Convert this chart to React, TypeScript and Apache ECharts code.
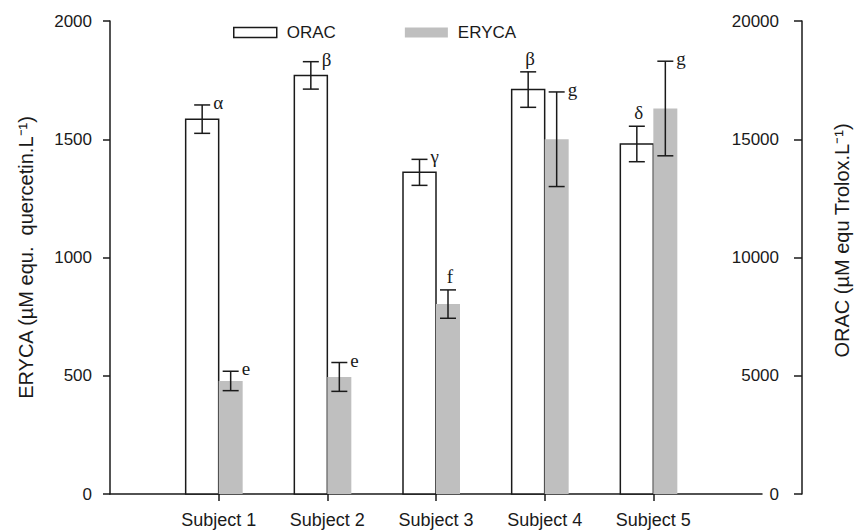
import React, { useEffect, useRef } from "react";
import * as echarts from "echarts";

const categories = ["Subject 1", "Subject 2", "Subject 3", "Subject 4", "Subject 5"];
const oracValues = [15850, 17700, 13600, 17100, 14800];
const oracErrors = [600, 580, 550, 750, 750];
const oracLetters = ["α", "β", "γ", "β", "δ"];
const oracLetterSide = ["right", "right", "right", "above", "above"];
const erycaValues = [478, 495, 803, 1500, 1630];
const erycaErrors = [41, 61, 60, 200, 200];
const erycaLetters = ["e", "e", "f", "g", "g"];
const erycaLetterSide = ["right", "right", "above", "right", "right"];
const erycaTicks = [0, 2000, 500];
const oracTicks = [0, 20000, 5000];

const SANS = '"Liberation Sans", Arial, Helvetica, sans-serif';
const SERIF = '"Liberation Serif", "Times New Roman", serif';
const INK = "#1a1a1a";

function makeRender(kind: "orac" | "eryca", letters: string[], sides: string[]) {
  return (params: any, api: any) => {
    const idx = api.value(0);
    const v = api.value(1);
    const e = api.value(2);
    const base = api.coord([idx, 0]);
    const top = api.coord([idx, v]);
    const hi = api.coord([idx, v + e]);
    const lo = api.coord([idx, v - e]);
    const x = base[0];
    const barW = kind === "orac" ? 33 : 24;
    const left = kind === "orac" ? x - barW : x;
    const cx = left + barW / 2;
    const cap = 8;
    const lineStyle = { stroke: INK, lineWidth: 1.5 };
    const children: any[] = [
      {
        type: "rect",
        shape: { x: left, y: top[1], width: barW, height: base[1] - top[1] },
        style:
          kind === "orac"
            ? { fill: "#ffffff", stroke: INK, lineWidth: 1.5 }
            : { fill: "#bfbfbf", stroke: null },
      },
      { type: "line", shape: { x1: cx, y1: hi[1], x2: cx, y2: lo[1] }, style: lineStyle },
      { type: "line", shape: { x1: cx - cap, y1: hi[1], x2: cx + cap, y2: hi[1] }, style: lineStyle },
      { type: "line", shape: { x1: cx - cap, y1: lo[1], x2: cx + cap, y2: lo[1] }, style: lineStyle },
    ];
    const i = params.dataIndex;
    const side = sides[i];
    children.push({
      type: "text",
      style: {
        text: letters[i],
        x: side === "right" ? cx + cap + 3 : cx + 2,
        y: side === "right" ? hi[1] + 7 : hi[1] - 4,
        align: side === "right" ? "left" : "center",
        verticalAlign: "bottom",
        fontFamily: SERIF,
        fontSize: 19,
        fill: INK,
      },
    });
    return { type: "group", children };
  };
}

const plain = (v: number) => String(v);

export default function App() {
  const ref = useRef<HTMLDivElement>(null);
  useEffect(() => {
    if (!ref.current) return;
    const chart = echarts.init(ref.current, undefined, { renderer: "svg" });
    const xCats = ["", ...categories, ""];
    const option: any = {
      animation: false,
      backgroundColor: "#ffffff",
      textStyle: { fontFamily: SANS },
      grid: { left: 110, right: 92, top: 21, bottom: 37 },
      legend: {
        left: 233,
        top: 24,
        padding: 0,
        itemWidth: 43,
        itemHeight: 10,
        itemGap: 69,
        selectedMode: false,
        textStyle: { fontSize: 17, color: INK, fontFamily: SANS, padding: [0, 0, 0, 5] },
        data: [
          { name: "ORAC", icon: "rect", itemStyle: { color: "#ffffff", borderColor: INK, borderWidth: 1.5 } },
          { name: "ERYCA", icon: "rect", itemStyle: { color: "#bfbfbf", borderColor: "#bfbfbf", borderWidth: 0 } },
        ],
      },
      xAxis: {
        type: "category",
        data: xCats,
        boundaryGap: false,
        axisLine: { show: true, lineStyle: { color: INK, width: 1.5 } },
        axisTick: {
          show: true,
          length: 7,
          interval: (i: number) => i > 0 && i < xCats.length - 1,
          lineStyle: { color: INK, width: 1.5 },
        },
        axisLabel: { interval: 0, margin: 17, fontSize: 18, color: INK, fontFamily: SANS },
        splitLine: { show: false },
      },
      yAxis: [
        {
          type: "value",
          min: erycaTicks[0],
          max: erycaTicks[1],
          interval: erycaTicks[2],
          position: "left",
          name: "ERYCA (µM equ.  quercetin.L⁻¹)",
          nameLocation: "middle",
          nameGap: 74,
          nameRotate: 90,
          nameTextStyle: { fontSize: 20, color: INK, fontFamily: SANS },
          axisLine: { show: true, lineStyle: { color: INK, width: 1.5 } },
          axisTick: { show: true, length: 7, lineStyle: { color: INK, width: 1.5 } },
          axisLabel: { margin: 18, fontSize: 17, color: INK, fontFamily: SANS, formatter: plain },
          splitLine: { show: false },
        },
        {
          type: "value",
          min: oracTicks[0],
          max: oracTicks[1],
          interval: oracTicks[2],
          position: "right",
          offset: 40,
          name: "ORAC (µM equ Trolox.L⁻¹)",
          nameLocation: "middle",
          nameGap: 30,
          nameRotate: 90,
          nameTextStyle: { fontSize: 20, color: INK, fontFamily: SANS, padding: [0, 0, 0, 34] },
          axisLine: { show: true, lineStyle: { color: INK, width: 1.5 } },
          axisTick: { show: true, inside: true, length: 8, lineStyle: { color: INK, width: 1.5 } },
          axisLabel: { inside: true, margin: 23, fontSize: 17, color: INK, fontFamily: SANS, formatter: plain },
          splitLine: { show: false },
        },
      ],
      series: [
        {
          name: "ORAC",
          type: "custom",
          yAxisIndex: 1,
          clip: false,
          itemStyle: { color: "#ffffff", borderColor: INK, borderWidth: 1.5 },
          encode: { x: 0, y: 1 },
          data: oracValues.map((v, i) => [i + 1, v, oracErrors[i]]),
          renderItem: makeRender("orac", oracLetters, oracLetterSide),
        },
        {
          name: "ERYCA",
          type: "custom",
          yAxisIndex: 0,
          clip: false,
          itemStyle: { color: "#bfbfbf" },
          encode: { x: 0, y: 1 },
          data: erycaValues.map((v, i) => [i + 1, v, erycaErrors[i]]),
          renderItem: makeRender("eryca", erycaLetters, erycaLetterSide),
        },
      ],
    };
    chart.setOption(option);
    return () => chart.dispose();
  }, []);
  return <div ref={ref} style={{ width: 860, height: 531, position: "absolute", left: 0, top: 0 }} />;
}
